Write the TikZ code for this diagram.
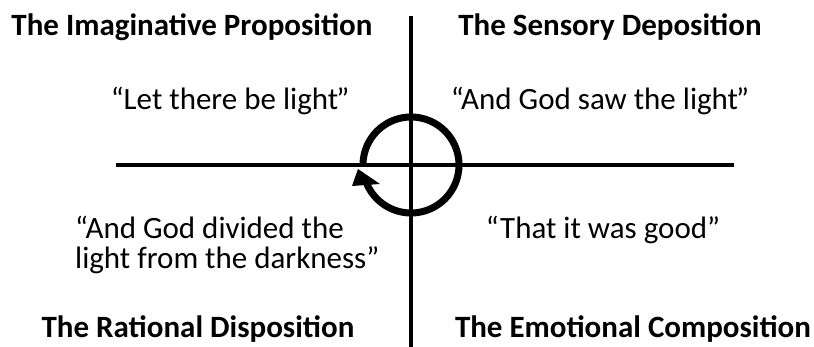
\documentclass[tikz,border=0pt]{standalone}
\usepackage{fontspec}
\setmainfont{Carlito}
\begin{document}
\begin{tikzpicture}[x=1pt,y=1pt,
  title/.style={font=\fontsize{31}{32}\selectfont\bfseries, inner sep=0pt, anchor=base},
  quote/.style={font=\fontsize{31}{30}\selectfont, inner sep=0pt, anchor=base},
  axis/.style={line width=3.6pt},
  cyc/.style={line width=7pt}]
\useasboundingbox (0,0) rectangle (814,347);
\coordinate (c) at (411,182);
\coordinate (vtop) at (411,331);
\coordinate (vbot) at (411,0);
\coordinate (hl) at (116,182);
\coordinate (hr) at (734,182);
\draw[axis] (vtop) -- (vbot);
\draw[axis] (hl) -- (hr);
% cycle arrow
\draw[cyc] ([shift={(180:48)}]c) arc[start angle=180, end angle=-157, radius=48];
\fill ([shift={(-53,-4)}]c) -- ([shift={(-59,-21)}]c) -- ([shift={(-31,-19)}]c) -- cycle;
% titles
\node[title] (t1) at (192,311) {The Imaginative Proposition};
\node[title] (t2) at (610,311) {The Sensory Deposition};
\node[title] (t3) at (198,9) {The Rational Disposition};
\node[title] (t4) at (633,9) {The Emotional Composition};
% quotes
\node[quote] (q1) at (230,237) {“Let there be light\kern-2pt”};
\node[quote] (q2) at (600,237) {“And God saw the light\kern-2pt”};
\node[quote, anchor=base west, align=left] (q3) at (75,78) {“And God divided the\\light from the darkness”};
\node[quote] (q4) at (603,108) {“That it was good”};
\end{tikzpicture}
\end{document}
